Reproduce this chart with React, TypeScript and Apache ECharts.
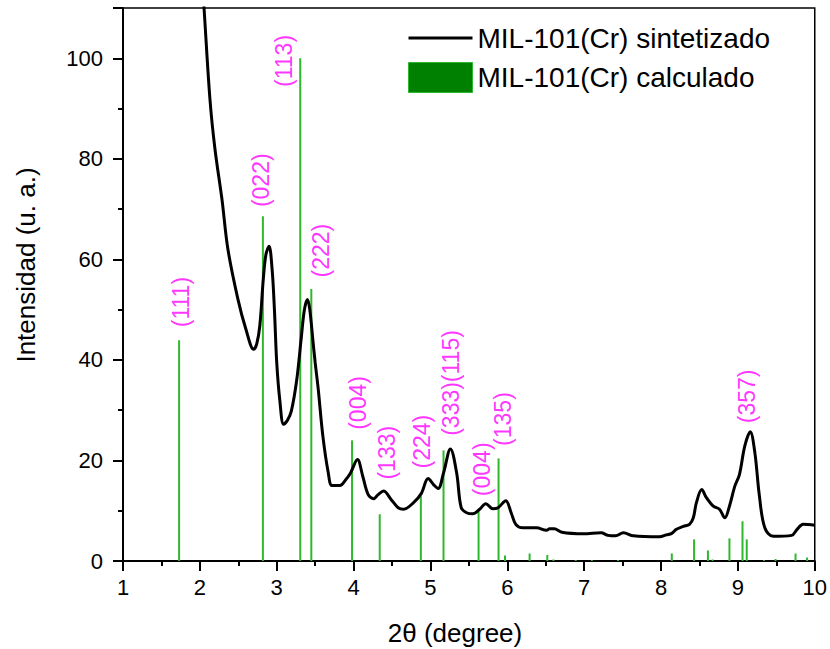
import React, { useEffect, useRef } from "react";
import * as echarts from "echarts";

// Measured pattern (x = 2θ, y = intensity)
const measuredX = [2.01, 2.053, 2.131, 2.196, 2.287, 2.365, 2.495, 2.599, 2.7, 2.74, 2.78, 2.825, 2.86, 2.9, 2.94, 2.97, 3.0, 3.04, 3.09, 3.14, 3.19, 3.26, 3.32, 3.36, 3.4, 3.43, 3.47, 3.5, 3.54, 3.6, 3.67, 3.72, 3.82, 3.9, 3.96, 4.05, 4.12, 4.19, 4.26, 4.32, 4.39, 4.49, 4.58, 4.65, 4.78, 4.88, 4.97, 5.04, 5.1, 5.17, 5.26, 5.34, 5.4, 5.47, 5.55, 5.64, 5.72, 5.81, 5.88, 5.98, 6.05, 6.11, 6.2, 6.38, 6.51, 6.55, 6.61, 6.71, 6.99, 7.22, 7.31, 7.41, 7.51, 7.64, 7.98, 8.07, 8.14, 8.2, 8.29, 8.37, 8.42, 8.46, 8.53, 8.59, 8.68, 8.76, 8.83, 8.89, 8.96, 9.02, 9.09, 9.16, 9.22, 9.28, 9.35, 9.46, 9.7, 9.77, 9.85, 10.0];
const measuredY = [120, 110.3, 91.9, 82.0, 72.0, 62.0, 52.1, 46.1, 42.1, 43.2, 46.8, 56, 61, 62.6, 58, 50, 39.5, 32, 27.2, 28, 29.8, 36, 44.5, 50, 52.0, 50, 44, 39.5, 34.2, 24.9, 17.6, 15.0, 15.0, 16.2, 17.5, 20.2, 16.8, 13.2, 12.4, 13.2, 13.9, 12.2, 10.6, 10.3, 11.6, 13.4, 16.4, 15.2, 14.4, 17.5, 22.3, 17.6, 10.6, 9.6, 9.4, 10.3, 11.4, 10.4, 10.6, 12.0, 9.6, 7.3, 6.6, 6.6, 6.1, 6.4, 6.4, 5.7, 5.4, 5.6, 5.1, 5.0, 5.6, 5.0, 4.8, 5.2, 5.5, 6.3, 6.9, 7.3, 8.6, 11.6, 14.2, 12.6, 10.9, 10.3, 8.6, 10.9, 14.9, 17.2, 22.9, 25.7, 21.6, 12.9, 6.6, 4.9, 5.1, 6.3, 7.3, 7.1];

// Calculated reflections
const calcX = [1.73, 2.82, 3.306, 3.45, 3.98, 4.34, 4.875, 5.17, 5.626, 5.886, 5.97, 6.29, 6.52, 6.6, 6.89, 7.1, 7.44, 8.14, 8.43, 8.61, 8.67, 8.89, 9.06, 9.115, 9.34, 9.49, 9.75, 9.9];
const calcY = [43.9, 68.6, 100, 54.1, 24.0, 9.3, 12.9, 22.0, 10.4, 20.4, 1.1, 1.5, 1.2, 0.3, 0.2, 0.2, 0.2, 1.5, 4.3, 2.1, 0.3, 4.5, 7.9, 4.3, 0.2, 0.4, 1.5, 0.7];

// Miller index annotations (x, y = start of rotated text)
const hklNames = ["(111)", "(022)", "(113)", "(222)", "(004)", "(133)", "(224)", "(333)(115)", "(004)", "(135)", "(357)"];
const hklX = [1.76, 2.795, 3.094, 3.575, 4.06, 4.44, 4.895, 5.27, 5.676, 5.946, 9.12];
const hklY = [46.5, 70.4, 94.3, 56.4, 26.1, 16.2, 18.4, 24.9, 12.9, 22.9, 27.4];

const xTicks = [1, 2, 3, 4, 5, 6, 7, 8, 9, 10];
const yTickLabels = [0, 20, 40, 60, 80, 100];

const FONT = "'Liberation Sans', Arial, Helvetica, sans-serif";

export default function App() {
  const ref = useRef<HTMLDivElement>(null);
  useEffect(() => {
    document.body.style.margin = "0";
    if (!ref.current) return;
    const chart = echarts.init(ref.current, undefined, { renderer: "svg" });
    const line = measuredX.map((x, i) => [x, measuredY[i]]);
    const bars = calcX.map((x, i) => [x, calcY[i]]);
    const hkl = hklX.map((x, i) => ({ value: [x, hklY[i]], name: hklNames[i] }));
    chart.setOption({
      animation: false,
      textStyle: { fontFamily: FONT },
      grid: {
        left: 123,
        right: 15,
        top: 8,
        bottom: 88,
        show: true,
        borderColor: "#000",
        borderWidth: 1.5,
        backgroundColor: "transparent",
      },
      legend: {
        left: 403,
        top: 18,
        orient: "vertical",
        itemWidth: 64,
        itemHeight: 30,
        itemGap: 9,
        textStyle: { fontSize: 28, color: "#000", fontFamily: FONT },
        data: [
          {
            name: "MIL-101(Cr) sintetizado",
            icon: "path://M0,0M64,30M0,13.5L64,13.5L64,16.5L0,16.5Z",
            itemStyle: { color: "#000", borderWidth: 0 },
          },
          {
            name: "MIL-101(Cr) calculado",
            icon: "rect",
            itemStyle: { color: "#008000", borderColor: "#2db82d", borderWidth: 1 },
          },
        ],
      },
      xAxis: {
        type: "value",
        min: 1,
        max: 10,
        interval: 1,
        axisLine: { show: true, lineStyle: { color: "#000", width: 2 } },
        axisTick: { show: true, length: 10, lineStyle: { color: "#000", width: 2 } },
        minorTick: { show: true, splitNumber: 2, length: 5, lineStyle: { color: "#000", width: 2 } },
        splitLine: { show: false },
        axisLabel: {
          margin: 15,
          fontSize: 22,
          color: "#000",
          fontFamily: FONT,
          formatter: (v: number) => (xTicks.includes(v) ? String(v) : ""),
        },
      },
      yAxis: [
        {
          type: "value",
          min: 0,
          max: 110,
          interval: 20,
          axisLine: { show: true, lineStyle: { color: "#000", width: 2 } },
          axisTick: { show: true, length: 10, lineStyle: { color: "#000", width: 2 } },
          splitLine: { show: false },
          axisLabel: {
            margin: 20,
            fontSize: 22,
            color: "#000",
            fontFamily: FONT,
            formatter: (v: number) => (yTickLabels.includes(v) ? String(v) : ""),
          },
        },
        {
          type: "value",
          position: "left",
          offset: 0,
          min: 0,
          max: 110,
          interval: 10,
          axisLine: { show: false },
          axisTick: { show: true, length: 5, lineStyle: { color: "#000", width: 2 } },
          axisLabel: { show: false },
          splitLine: { show: false },
        },
      ],
      graphic: [
        {
          type: "text",
          x: 26,
          y: 265,
          rotation: Math.PI / 2,
          style: {
            text: "Intensidad (u. a.)",
            font: `26px ${FONT}`,
            fill: "#000",
            textAlign: "center",
            textVerticalAlign: "middle",
          },
        },
        {
          type: "text",
          x: 455,
          y: 633,
          style: {
            text: "2θ (degree)",
            font: `26px ${FONT}`,
            fill: "#000",
            textAlign: "center",
            textVerticalAlign: "middle",
          },
        },
      ],
      series: [
        {
          name: "MIL-101(Cr) calculado",
          type: "bar",
          data: bars,
          barWidth: 2,
          itemStyle: { color: "#2db82d" },
          z: 2,
        },
        {
          name: "MIL-101(Cr) sintetizado",
          type: "line",
          data: line,
          smooth: 0.35,
          symbol: "none",
          showSymbol: false,
          clip: true,
          lineStyle: { color: "#000", width: 3 },
          itemStyle: { color: "#000" },
          z: 3,
        },
        {
          name: "hkl",
          type: "scatter",
          data: hkl,
          symbolSize: 0,
          silent: true,
          z: 4,
          label: {
            show: true,
            position: [0, 0],
            rotate: 90,
            align: "left",
            verticalAlign: "middle",
            formatter: (p: any) => p.name,
            color: "#ff00ff",
            fontSize: 23,
            fontFamily: FONT,
          },
        },
      ],
    });
    return () => chart.dispose();
  }, []);
  return <div ref={ref} style={{ width: 830, height: 649 }} />;
}
